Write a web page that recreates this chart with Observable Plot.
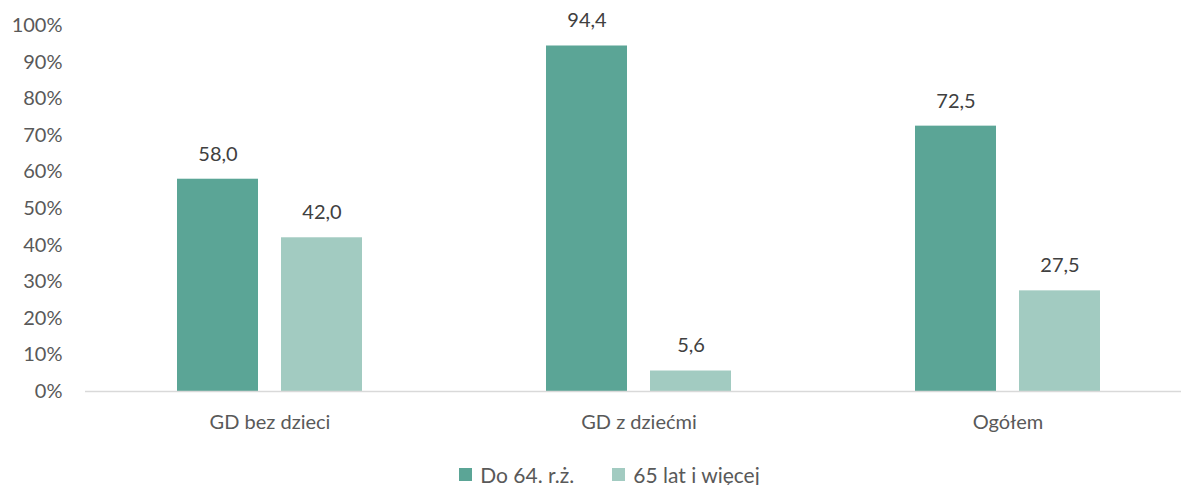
<!DOCTYPE html>
<html>
<head>
<meta charset="utf-8">
<script src="https://cdn.jsdelivr.net/npm/d3@7"></script>
<script src="https://cdn.jsdelivr.net/npm/@observablehq/plot@0.6"></script>
<style>
  html, body { margin: 0; padding: 0; background: #fff; }
  body { width: 1181px; height: 485px; overflow: hidden; font-family: Lato, "Open Sans", sans-serif; }
  #legend { display: flex; justify-content: center; align-items: center; gap: 38px; font-size: 21px; color: #595959; margin-top: 22px; padding-left: 38px; }
  #legend .item { display: flex; align-items: center; gap: 8px; }
  #legend .sw { width: 13px; height: 13px; display: inline-block; }
</style>
</head>
<body>
<div id="chart"></div>
<div id="legend"></div>
<script>
const categories = ["GD bez dzieci", "GD z dziećmi", "Ogółem"];
const series = ["Do 64. r.ż.", "65 lat i więcej"];
const seriesColors = ["#5BA596", "#A2CBC1"];
const valuesDo64 = [58.0, 94.4, 72.5];
const values65 = [42.0, 5.6, 27.5];
const yTicks = [0, 10, 20, 30, 40, 50, 60, 70, 80, 90, 100];

const data = [];
categories.forEach((c, i) => {
  data.push({group: c, series: series[0], value: valuesDo64[i]});
  data.push({group: c, series: series[1], value: values65[i]});
});
const fmt = v => v.toFixed(1).replace(".", ",");

const plot = Plot.plot({
  width: 1181,
  height: 440,
  marginTop: 25,
  marginBottom: 49,
  marginLeft: 85,
  marginRight: -11,
  style: {fontFamily: "Lato, 'Open Sans', sans-serif", fontSize: "20px", color: "#595959", background: "#fff"},
  fx: {domain: categories, padding: 0, label: null, tickSize: 0, tickPadding: 23, axis: "bottom"},
  x: {domain: series, paddingInner: 0.219, paddingOuter: 0.867, align: 0.5, axis: null},
  y: {domain: [0, 100], ticks: yTicks, tickFormat: d => d + "%", tickSize: 0, tickPadding: 23, label: null},
  color: {domain: series, range: seriesColors},
  marks: [
    Plot.barY(data, {fx: "group", x: "series", y: "value", fill: "series"}),
    Plot.ruleY([0], {stroke: "#D9D9D9", strokeWidth: 1.5}),
    Plot.text(data, {fx: "group", x: "series", y: "value", text: d => fmt(d.value), dy: -25, fill: "#404040", fontSize: 20})
  ]
});
document.getElementById("chart").appendChild(plot);

const legend = document.getElementById("legend");
series.forEach((s, i) => {
  const it = document.createElement("div");
  it.className = "item";
  const sw = document.createElement("span");
  sw.className = "sw";
  sw.style.background = seriesColors[i];
  const t = document.createElement("span");
  t.textContent = s;
  it.appendChild(sw); it.appendChild(t);
  legend.appendChild(it);
});
</script>
</body>
</html>
